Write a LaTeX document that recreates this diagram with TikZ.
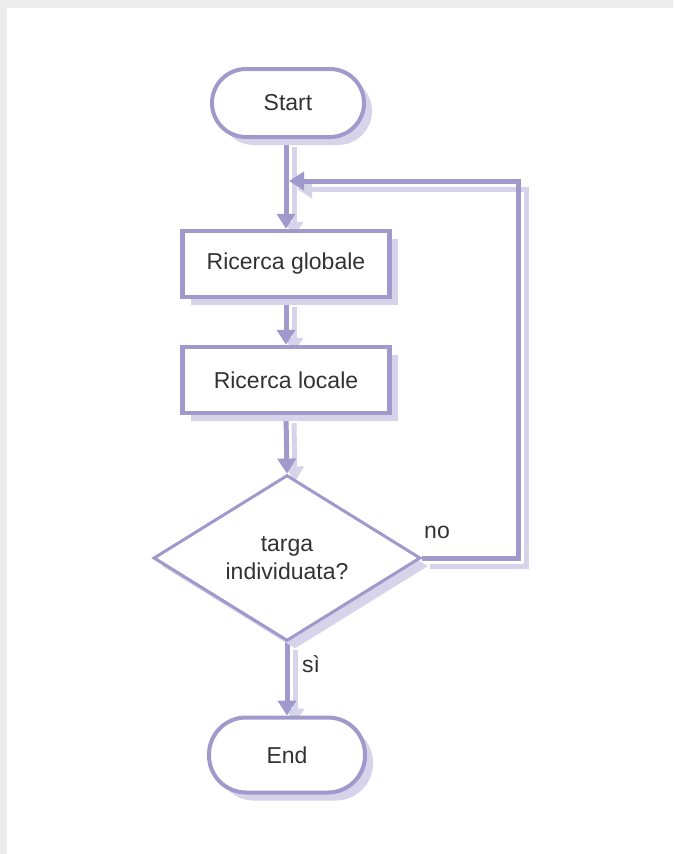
\documentclass[tikz,border=0pt]{standalone}
\usepackage{fontspec}
\setmainfont{Liberation Sans}
\usetikzlibrary{shapes.geometric,shadows,arrows.meta,calc}
\definecolor{lav}{RGB}{160,153,204}
\definecolor{shad}{RGB}{214,211,234}
\definecolor{txt}{RGB}{50,50,50}
\definecolor{frame}{RGB}{236,236,236}
\pgfdeclarelayer{back}
\pgfdeclarelayer{bg}
\pgfsetlayers{back,bg,main}
\begin{document}
\begin{tikzpicture}[x=1pt,y=-1pt,
  every node/.style={font=\fontsize{23pt}{28pt}\selectfont, text=txt},
  nshadow/.style={drop shadow={shadow xshift=8pt,shadow yshift=-8pt,fill=shad,opacity=1}},
  stadium/.style={draw=lav,line width=4pt,fill=white,rounded corners=34pt,nshadow,inner sep=0pt},
  procbox/.style={draw=lav,line width=4.5pt,fill=white,minimum width=207pt,minimum height=66pt,inner sep=0pt,nshadow},
  decision/.style={diamond,draw=lav,line width=3pt,fill=white,minimum width=267pt,minimum height=157pt,inner sep=0pt,align=center,nshadow},
  tipA/.tip={Triangle[width=18pt,length=15pt]},
  conn/.style={draw=lav,line width=5pt,-tipA,
    preaction={draw=shad,line width=5pt,-tipA,transform canvas={xshift=8pt,yshift=-8pt}}},
  lbl/.style={font=\fontsize{23pt}{26pt}\selectfont, text=txt, inner sep=0pt}
]
\begin{pgfonlayer}{back}
\fill[frame] (0,0) rectangle (673,854);
\fill[white] (7,8) rectangle (673,854);
\end{pgfonlayer}
\useasboundingbox (0,0) rectangle (673,854);

\node[stadium,minimum width=152pt,minimum height=68pt] (start) at (288,103) {Start};
\node[procbox] (glob) at (286,264) {Ricerca globale};
\node[procbox] (loc) at (286,380) {Ricerca locale};
\node[decision] (dec) at (287,558) {targa\\individuata?};
\node[stadium,rounded corners=37pt,minimum width=156pt,minimum height=75pt] (end) at (287,755) {End};

\node[lbl] (no) at (437,532) {no};
\node[lbl] (si) at (311,664) {sì};

\coordinate (j) at (289,181);
\coordinate (r1) at (518,558);
\coordinate (r2) at (518,181);

\begin{pgfonlayer}{bg}
\draw[conn] (start.south -| glob.north) -- (glob.north);
\draw[conn] (glob.south) -- (loc.north);
\draw[conn] (loc.south) -- (dec.north);
\draw[conn] (dec.south) -- (end.north);
\draw[conn] (dec.east) -- (r1) -- (r2) -- (j);
\end{pgfonlayer}
\end{tikzpicture}
\end{document}
